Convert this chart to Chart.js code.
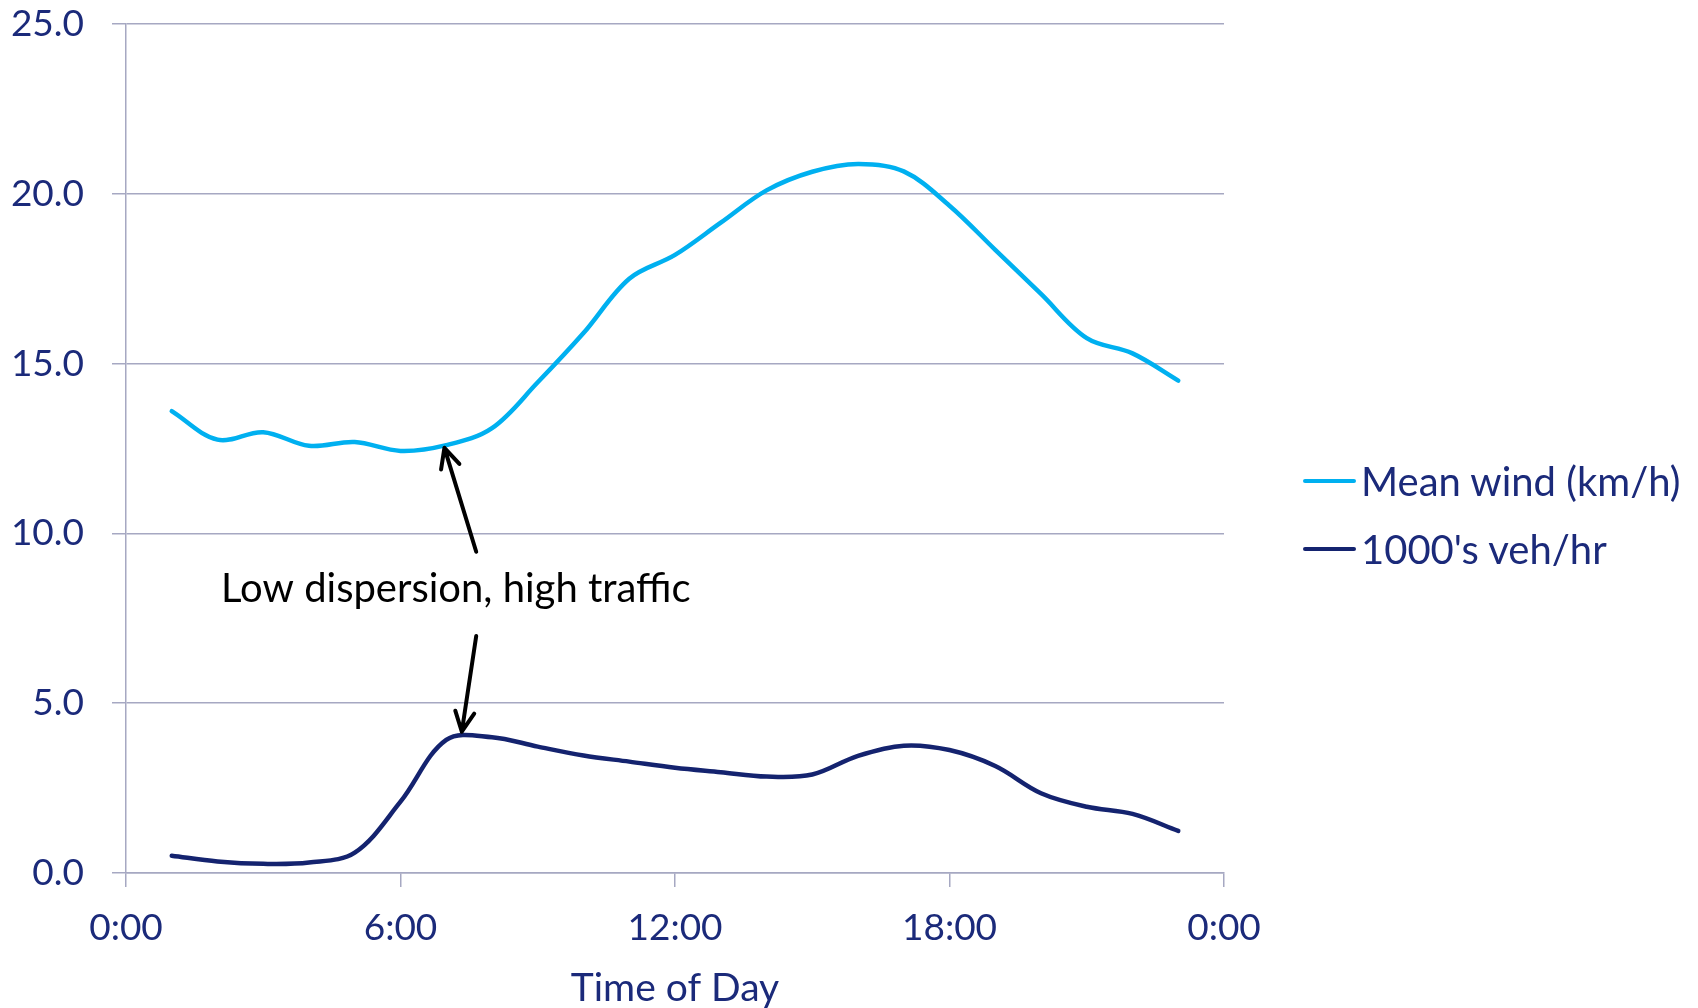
<!DOCTYPE html>
<html>
<head>
<meta charset="utf-8">
<title>Wind and traffic by time of day</title>
<script src="https://cdn.jsdelivr.net/npm/chart.js@4.4.1/dist/chart.umd.min.js"></script>
<style>
    html, body { margin: 0; padding: 0; background: #ffffff; }
    #wrap { position: relative; width: 1698px; height: 1008px; }
    #legend { position: absolute; left: 1303px; top: 447px; }
    .legend-item { display: flex; align-items: center; height: 68px; }
    .legend-line { width: 53px; height: 4px; border-radius: 2px; margin-right: 5px; }
    .legend-text { font-family: Lato, sans-serif; font-size: 40px; line-height: 1; color: #1b2a7a; white-space: nowrap; }
</style>
</head>
<body>
<div id="wrap">
    <canvas id="dayChart" width="1698" height="1008"></canvas>
    <div id="legend"></div>
</div>
<script>

/* =========================
   DADOS
========================= */

const hours = [1, 2, 3, 4, 5, 6, 7, 8, 9, 10, 11, 12, 13, 14, 15, 16, 17, 18, 19, 20, 21, 22, 23];

const meanWind = [13.6, 12.76, 12.98, 12.58, 12.69, 12.43, 12.6, 13.1, 14.45, 15.9, 17.5, 18.2,
                  19.15, 20.1, 20.65, 20.88, 20.66, 19.65, 18.35, 17.05, 15.75, 15.3, 14.5];

const traffic = [0.51, 0.34, 0.27, 0.31, 0.6, 2.1, 3.92, 4.0, 3.72, 3.46, 3.28, 3.1,
                 2.97, 2.84, 2.9, 3.45, 3.75, 3.62, 3.15, 2.35, 1.95, 1.74, 1.24];

const seriesNames = ["Mean wind (km/h)", "1000's veh/hr"];
const seriesColors = ["#00b0f0", "#14236f"];

const xTickLabels = ["0:00", "6:00", "12:00", "18:00", "0:00"];
const xTitle = "Time of Day";

const noteText = "Low dispersion, high traffic";
const noteAt = [7.21, 8.35];
const noteArrows = [
    { from: [7.655, 9.46], to: [6.96, 12.52] },
    { from: [7.655, 6.98], to: [7.34, 4.16] }
];

const navy = "#1b2a7a";
const gridColor = "#a6a8c2";


/* =========================
   ANOTAÇÃO
========================= */

const notePlugin = {
    id: "noteArrows",
    afterDatasetsDraw(chart) {

        const { ctx, scales: { x, y } } = chart;

        ctx.save();
        ctx.strokeStyle = "#000000";
        ctx.fillStyle = "#000000";
        ctx.lineWidth = 4;
        ctx.lineCap = "round";
        ctx.lineJoin = "round";

        noteArrows.forEach(a => {

            const x0 = x.getPixelForValue(a.from[0]);
            const y0 = y.getPixelForValue(a.from[1]);
            const x1 = x.getPixelForValue(a.to[0]);
            const y1 = y.getPixelForValue(a.to[1]);
            const ang = Math.atan2(y1 - y0, x1 - x0);

            ctx.beginPath();
            ctx.moveTo(x0, y0);
            ctx.lineTo(x1, y1);
            [-1, 1].forEach(s => {
                ctx.moveTo(x1, y1);
                ctx.lineTo(x1 - 22 * Math.cos(ang + s * 0.45), y1 - 22 * Math.sin(ang + s * 0.45));
            });
            ctx.stroke();

        });

        ctx.font = "40px Lato";
        ctx.textAlign = "center";
        ctx.textBaseline = "middle";
        ctx.fillText(noteText, x.getPixelForValue(noteAt[0]), y.getPixelForValue(noteAt[1]));

        ctx.restore();
    }
};


/* =========================
   GRÁFICO
========================= */

const series = [meanWind, traffic];

new Chart(document.getElementById("dayChart"), {

    type: "line",

    data: {
        datasets: series.map((values, i) => ({
            label: seriesNames[i],
            data: hours.map((h, k) => ({ x: h, y: values[k] })),
            borderColor: seriesColors[i],
            backgroundColor: seriesColors[i],
            borderWidth: 4.5,
            borderCapStyle: "round",
            borderJoinStyle: "round",
            pointRadius: 0,
            tension: 0.35,
            fill: false
        }))
    },

    options: {
        responsive: false,
        devicePixelRatio: 1,
        animation: false,
        layout: {
            padding: { left: 0, top: 24, right: 474, bottom: 0 }
        },
        plugins: {
            legend: { display: false },
            tooltip: { enabled: false }
        },
        scales: {
            x: {
                type: "linear",
                min: 0,
                max: 24,
                ticks: {
                    stepSize: 6,
                    color: navy,
                    font: { family: "Lato", size: 37 },
                    padding: 19,
                    maxRotation: 0,
                    callback: (v, i) => xTickLabels[i]
                },
                grid: {
                    drawOnChartArea: false,
                    drawTicks: true,
                    tickLength: 14,
                    color: gridColor,
                    lineWidth: 1.5
                },
                border: { color: gridColor, width: 1.5 },
                title: {
                    display: true,
                    text: xTitle,
                    color: navy,
                    font: { family: "Lato", size: 39, lineHeight: 1 },
                    padding: { top: 0, bottom: 0 }
                },
                afterFit: s => {
                    s.height = 135;
                    s.paddingLeft = 0;
                    s.paddingRight = 0;
                }
            },
            y: {
                min: 0,
                max: 25,
                ticks: {
                    stepSize: 5,
                    color: navy,
                    font: { family: "Lato", size: 37 },
                    padding: 28,
                    callback: v => v.toFixed(1)
                },
                grid: {
                    color: gridColor,
                    lineWidth: 1.5,
                    tickLength: 14
                },
                border: { color: gridColor, width: 1.5 },
                afterFit: s => {
                    s.width = 126;
                    s.paddingTop = 0;
                    s.paddingBottom = 0;
                }
            }
        }
    },

    plugins: [notePlugin]

});


/* =========================
   LEGENDA
========================= */

const legend = document.getElementById("legend");

seriesNames.forEach((name, i) => {

    const item = document.createElement("div");
    item.className = "legend-item";

    const line = document.createElement("span");
    line.className = "legend-line";
    line.style.background = seriesColors[i];

    const text = document.createElement("span");
    text.className = "legend-text";
    text.textContent = name;

    item.appendChild(line);
    item.appendChild(text);
    legend.appendChild(item);

});

</script>
</body>
</html>
